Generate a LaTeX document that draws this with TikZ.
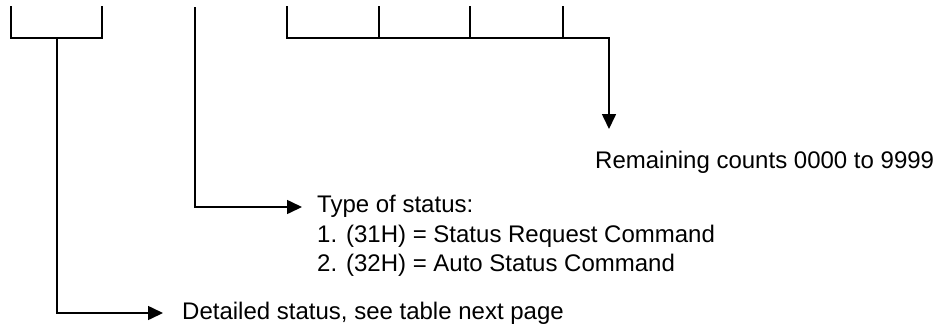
\documentclass[tikz,border=0pt]{standalone}
\usepackage{fontspec}
\setmainfont{Liberation Sans}
\usetikzlibrary{arrows.meta}
\tikzset{bracketline/.style={line width=1.6pt,line cap=rect},
    arrowline/.style={line width=1.6pt,-{Triangle[length=15pt,width=14pt]}},
    statuslabel/.style={font=\fontsize{24pt}{29.5pt}\selectfont,inner sep=0pt,align=left}
}

\begin{document}
\begin{tikzpicture}[x=1pt,y=-1pt]
           \useasboundingbox (0,0) rectangle (939,330);
           % bracket over the detailed status bytes
           \coordinate (dl) at (11,7);
           \coordinate (dr) at (102,7);
           \coordinate (dstem) at (57,38);
           \draw[bracketline] (dl) |- (dr |- dstem) -- (dr);
           % line from the type of status byte
           \coordinate (ttop) at (195,7);
           % bracket over the count bytes
           \coordinate (c1) at (287,7);
           \coordinate (c2) at (379,7);
           \coordinate (c3) at (470,7);
           \coordinate (c4) at (563,7);
           \coordinate (cend) at (609,38);
           \draw[bracketline] (c1) |- (cend);
           \draw[bracketline] (c2) -- (c2 |- cend);
           \draw[bracketline] (c3) -- (c3 |- cend);
           \draw[bracketline] (c4) -- (c4 |- cend);
           % labels
           \node[statuslabel,anchor=base west] (remain) at (595,168) {Remaining counts 0000 to 9999};
           \node[statuslabel,anchor=north west] (stype) at (317,195) {Type of status:\\1. (31H) = Status Request Command\\2. (32H) = Auto Status Command};
           \node[statuslabel,anchor=west] (detail) at (182,313) {Detailed status, see table next page};
           % arrows
           \coordinate (ctip) at (609,129);
           \coordinate (ttip) at (302,207);
           \coordinate (dtip) at (163,313);
           \draw[arrowline] (cend) -- (ctip);
           \draw[arrowline] (ttop) |- (ttip);
           \draw[arrowline] (dstem) |- (dtip);
         \end{tikzpicture}
\end{document}
